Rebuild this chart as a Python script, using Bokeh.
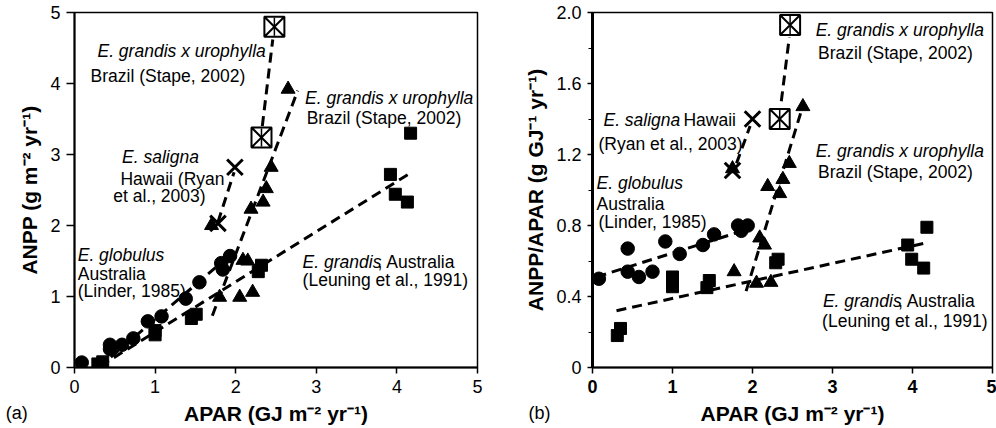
from bokeh.plotting import figure
from bokeh.layouts import row
from bokeh.models import Range1d, FixedTicker, Label
from bokeh.embed import file_html
from bokeh.resources import INLINE
import numpy as np

FONT = "Liberation Sans"

# ---------------- Panel (a): ANPP vs APAR ----------------
glob_x_a = [0.09, 0.44, 0.44, 0.59, 0.73, 0.91, 1.08, 1.38, 1.55, 1.82, 1.84, 1.93]
glob_y_a = [0.07, 0.32, 0.26, 0.32, 0.41, 0.65, 0.72, 0.97, 1.20, 1.47, 1.38, 1.57]
grand_x_a = [0.29, 0.35, 1.00, 1.00, 1.45, 1.51, 2.28, 2.32, 3.92, 3.98, 4.13, 4.17]
grand_y_a = [0.05, 0.08, 0.46, 0.52, 0.69, 0.75, 1.35, 1.44, 2.72, 2.44, 2.33, 3.30]
stape_x_a = [1.70, 1.80, 2.05, 2.09, 2.15, 2.19, 2.21, 2.34, 2.38, 2.44, 2.65]
stape_y_a = [2.00, 0.99, 0.99, 1.51, 1.50, 2.23, 1.06, 2.33, 2.52, 2.82, 3.92]
sal_x_a = [1.78, 1.99]
sal_y_a = [2.03, 2.82]
box_x_a = [2.32, 2.48]
box_y_a = [3.24, 4.80]

glob_line_x_a = [0.30, 1.97]
glob_line_y_a = [0.00, 1.62]
grand_line_x_a = [0.32, 4.17]
grand_line_y_a = [0.02, 2.74]
stape_line_x_a = [1.71, 2.77]
stape_line_y_a = [0.73, 3.90]
sal_line_x_a = [1.78, 1.98]
sal_line_y_a = [2.05, 2.75]
box_line_x_a = [2.33, 2.46]
box_line_y_a = [3.40, 4.62]

# ---------------- Panel (b): ANPP/APAR vs APAR ----------------
glob_x_b = [0.08, 0.44, 0.44, 0.58, 0.75, 0.91, 1.09, 1.38, 1.52, 1.82, 1.86, 1.94]
glob_y_b = [0.50, 0.67, 0.54, 0.51, 0.54, 0.71, 0.64, 0.69, 0.75, 0.80, 0.77, 0.80]
grand_x_b = [0.31, 0.35, 1.00, 1.00, 1.43, 1.46, 2.29, 2.32, 3.94, 3.99, 4.14, 4.18]
grand_y_b = [0.18, 0.22, 0.455, 0.51, 0.45, 0.49, 0.59, 0.61, 0.69, 0.61, 0.56, 0.79]
stape_x_b = [1.75, 1.77, 2.05, 2.09, 2.15, 2.19, 2.23, 2.34, 2.38, 2.46, 2.63]
stape_y_b = [1.12, 0.54, 0.475, 0.73, 0.69, 1.02, 0.48, 0.98, 1.06, 1.15, 1.47]
sal_x_b = [1.75, 2.00]
sal_y_b = [1.11, 1.40]
box_x_b = [2.34, 2.47]
box_y_b = [1.40, 1.93]

glob_line_x_b = [0.05, 1.95]
glob_line_y_b = [0.51, 0.78]
grand_line_x_b = [0.30, 4.15]
grand_line_y_b = [0.32, 0.70]
stape_line_x_b = [1.92, 2.62]
stape_line_y_b = [0.43, 1.46]
sal_line_x_b = [1.80, 1.97]
sal_line_y_b = [1.15, 1.36]
box_line_x_b = [2.36, 2.46]
box_line_y_b = [1.50, 1.86]

x_ticks = [0, 1, 2, 3, 4, 5]
y_ticks_a = [0, 1, 2, 3, 4, 5]
y_ticks_b = [0, 0.4, 0.8, 1.2, 1.6, 2.0]
y_minor_b = [0.2, 0.6, 1.0, 1.4, 1.8]
y_labels_b = {0: "0", 0.4: "0.4", 0.8: "0.8", 1.2: "1.2", 1.6: "1.6", 2.0: "2.0"}

XLABEL = "APAR (GJ m\u207b\u00b2 yr\u207b\u00b9)"
YLABEL_A = "ANPP (g m\u207b\u00b2 yr\u207b\u00b9)"
YLABEL_B = "ANPP/APAR (g GJ\u207b\u00b9 yr\u207b\u00b9)"

ANN = "17.5px"
PANEL = "18px"
TICK = "18px"
AXL = "21px"


def base_fig(width, ymax, left_border, right_border):
    p = figure(width=width, height=428, output_backend="svg", toolbar_location=None,
               x_range=Range1d(0, 5), y_range=Range1d(0, ymax),
               min_border_left=left_border, min_border_right=right_border,
               min_border_top=12, min_border_bottom=61)
    p.xgrid.visible = False
    p.ygrid.visible = False
    p.outline_line_color = "black"
    p.outline_line_width = 1.5
    p.background_fill_color = "white"
    p.border_fill_color = "white"
    for ax in (p.xaxis[0], p.yaxis[0]):
        ax.axis_line_color = "black"
        ax.axis_line_width = 2
        ax.major_tick_in = 0
        ax.major_tick_out = 6
        ax.major_tick_line_color = "black"
        ax.major_tick_line_width = 1.5
        ax.minor_tick_line_color = None
        ax.major_label_text_font = FONT
        ax.major_label_text_font_size = TICK
        ax.major_label_text_color = "black"
        ax.axis_label_text_font = FONT
        ax.axis_label_text_font_size = AXL
        ax.axis_label_text_font_style = "bold"
        ax.axis_label_text_color = "black"
    p.xaxis[0].ticker = FixedTicker(ticks=x_ticks)
    p.xaxis[0].axis_label = XLABEL
    p.xaxis[0].major_label_standoff = 6
    p.xaxis[0].axis_label_standoff = 6
    p.yaxis[0].major_label_standoff = 6
    p.yaxis[0].axis_label_standoff = 6
    return p


def draw(p, gx, gy, qx, qy, tx, ty, sx, sy, bx, by, lines):
    for lx, ly in lines:
        p.line(lx, ly, line_color="black", line_width=3, line_dash="10 6")
    p.scatter(gx, gy, marker="circle", size=13.5, fill_color="black", line_color="black")
    p.scatter(qx, qy, marker="square", size=12, fill_color="black", line_color="black")
    p.scatter(tx, ty, marker="triangle", size=14, fill_color="black", line_color="black")
    p.scatter(sx, sy, marker="x", size=22, line_color="black", line_width=3)
    p.scatter(bx, by, marker="square_x", size=20, fill_color="white", line_color="black", line_width=2)
    p.scatter(bx, by, marker="dash", size=18, angle=np.pi / 2, line_color="black", line_width=1.5)


def ann(p, x, y, text, italic=False, x_offset=0, size=ANN, place="center"):
    lab = Label(x=x, y=y, text=text,
                text_font=FONT, text_font_size=size,
                text_font_style="italic" if italic else "normal",
                text_baseline="middle", text_align="left", x_offset=x_offset,
                text_color="black")
    p.add_layout(lab, place)


# ---- panel a ----
pa = base_fig(499, 5, 74, 20)
pa.yaxis[0].ticker = FixedTicker(ticks=y_ticks_a)
pa.yaxis[0].axis_label = YLABEL_A
pa.yaxis[0].major_tick_out = 8
draw(pa, glob_x_a, glob_y_a, grand_x_a, grand_y_a, stape_x_a, stape_y_a,
     sal_x_a, sal_y_a, box_x_a, box_y_a,
     [(glob_line_x_a, glob_line_y_a), (grand_line_x_a, grand_line_y_a),
      (stape_line_x_a, stape_line_y_a), (sal_line_x_a, sal_line_y_a),
      (box_line_x_a, box_line_y_a)])

ann(pa, 0.285, 4.46, "E. grandis x urophylla", italic=True)
ann(pa, 0.20, 4.11, "Brazil (Stape, 2002)")
ann(pa, 2.86, 3.79, "E. grandis x urophylla", italic=True)
ann(pa, 2.88, 3.51, "Brazil (Stape, 2002)")
ann(pa, 0.59, 2.96, "E. saligna", italic=True)
ann(pa, 0.57, 2.66, "Hawaii (Ryan")
ann(pa, 0.48, 2.42, "et al., 2003)")
ann(pa, 0.04, 1.58, "E. globulus", italic=True)
ann(pa, 0.04, 1.32, "Australia")
ann(pa, 0.04, 1.08, "(Linder, 1985)")
ann(pa, 2.83, 1.49, "E. grandis", italic=True)
ann(pa, 2.83, 1.49, ", Australia", x_offset=75)
ann(pa, 2.83, 1.23, "(Leuning et al., 1991)")
ann(pa, -0.854, -0.634, "(a)", size=PANEL, place="right")

# ---- panel b ----
pb = base_fig(497, 2, 92, 4)
pb.yaxis[0].ticker = FixedTicker(ticks=y_ticks_b, minor_ticks=y_minor_b)
pb.yaxis[0].major_label_overrides = y_labels_b
pb.yaxis[0].minor_tick_line_color = "black"
pb.yaxis[0].minor_tick_in = 0
pb.yaxis[0].minor_tick_out = 4
pb.yaxis[0].major_tick_out = 5
pb.yaxis[0].axis_line_width = 3
pb.yaxis[0].axis_label = YLABEL_B
pb.xaxis[0].major_label_text_font_style = "bold"
draw(pb, glob_x_b, glob_y_b, grand_x_b, grand_y_b, stape_x_b, stape_y_b,
     sal_x_b, sal_y_b, box_x_b, box_y_b,
     [(glob_line_x_b, glob_line_y_b), (grand_line_x_b, grand_line_y_b),
      (stape_line_x_b, stape_line_y_b), (sal_line_x_b, sal_line_y_b),
      (box_line_x_b, box_line_y_b)])

ann(pb, 0.137, 1.397, "E. saligna", italic=True)
ann(pb, 0.137, 1.397, "Hawaii", x_offset=80)
ann(pb, 0.075, 1.26, "(Ryan et al., 2003)")
ann(pb, 0.05, 1.04, "E. globulus", italic=True)
ann(pb, 0.05, 0.92, "Australia")
ann(pb, 0.075, 0.82, "(Linder, 1985)")
ann(pb, 2.79, 1.90, "E. grandis x urophylla", italic=True)
ann(pb, 2.82, 1.77, "Brazil (Stape, 2002)")
ann(pb, 2.79, 1.22, "E. grandis x urophylla", italic=True)
ann(pb, 2.82, 1.10, "Brazil (Stape, 2002)")
ann(pb, 2.88, 0.372, "E. grandis", italic=True)
ann(pb, 2.88, 0.372, ", Australia", x_offset=75)
ann(pb, 2.87, 0.26, "(Leuning et al., 1991)")
ann(pb, -0.80, -0.259, "(b)", size=PANEL, place="left")

layout = row(pa, pb)
open("out.html", "w").write(file_html(layout, INLINE))
